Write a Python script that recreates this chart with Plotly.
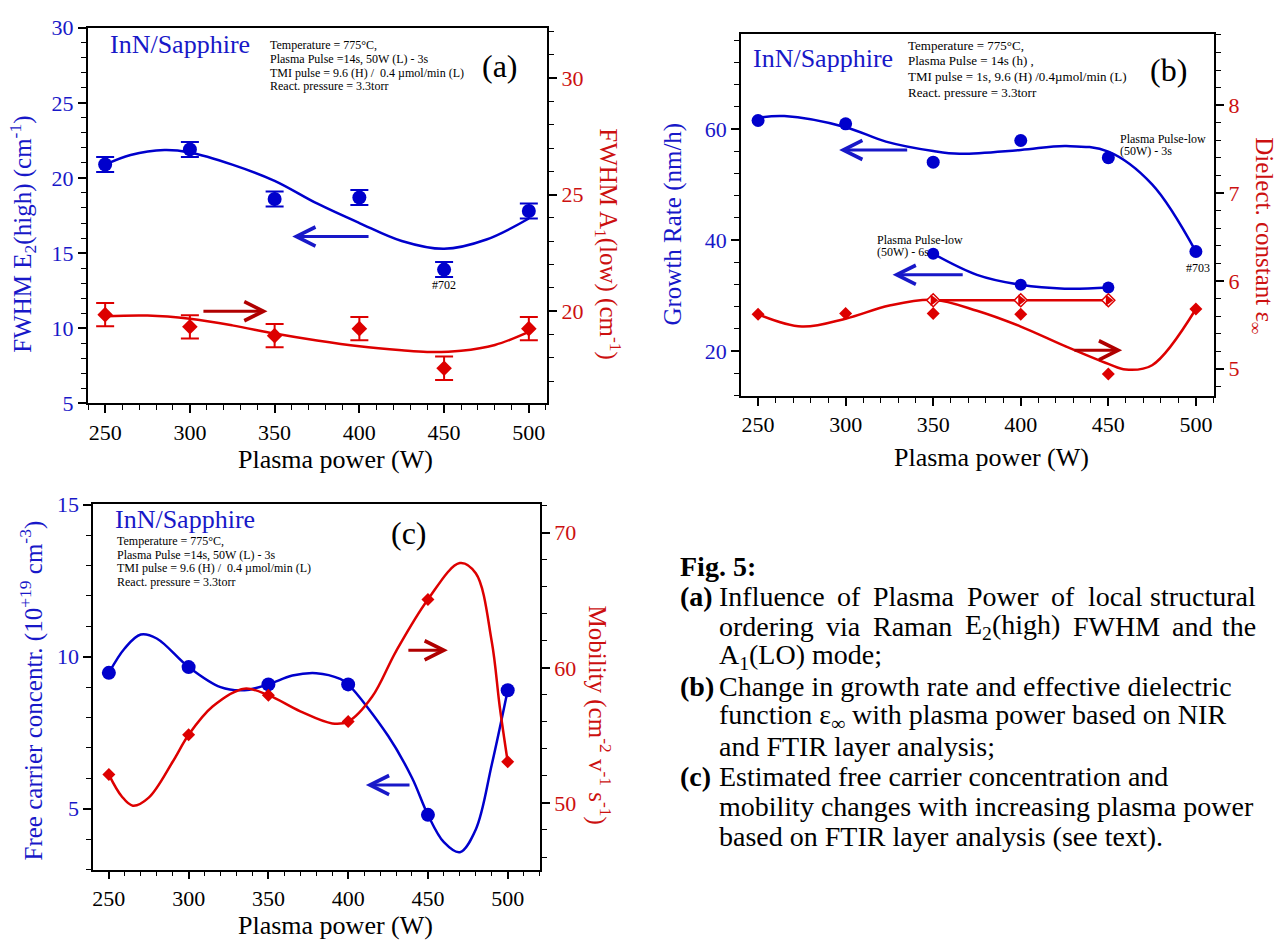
import plotly.graph_objects as go

W, H = 1279, 952
BLUE = '#0000CC'
BLUE_T = '#1818C8'
RED = '#DD0000'
RED_T = '#CC1010'
DARKRED = '#B00000'
FONT = 'Liberation Serif'

# ---------------- data ----------------
power = [250, 300, 350, 400, 450, 500]

# (a) Raman FWHM
e2_fwhm = [20.9, 21.9, 18.6, 18.7, 13.9, 17.8]
e2_err = [0.5, 0.5, 0.5, 0.5, 0.5, 0.5]
a1_fwhm = [19.85, 19.33, 18.95, 19.25, 17.55, 19.25]
a1_err = [0.5, 0.5, 0.5, 0.5, 0.5, 0.5]
fit_e2_x = [250, 265, 285, 300, 325, 350, 375, 400, 425, 450, 475, 500]
fit_e2_y = [20.89, 21.53, 21.86, 21.7, 20.89, 19.81, 18.3, 17.0, 15.8, 15.28, 15.9, 17.3]
fit_a1_x = [250, 275, 300, 325, 350, 375, 400, 425, 440, 460, 480, 500]
fit_a1_y = [19.78, 19.81, 19.67, 19.39, 19.04, 18.74, 18.49, 18.32, 18.25, 18.3, 18.55, 19.11]

# (b) growth rate and dielectric constant
growth = [61.5, 60.9, 54.0, 57.9, 54.8, 37.9]
power_6s = [350, 400, 450]
growth_6s = [37.5, 31.9, 31.4]
eps = [5.62, 5.63, 5.63, 5.62, 4.94, 5.68]
eps_6s = [5.78, 5.78, 5.78]
fit_gr_x = [250, 265, 300, 323, 350, 365, 400, 426, 450, 475, 500]
fit_gr_y = [62.0, 62.3, 60.3, 57.7, 56.0, 55.5, 56.2, 56.9, 55.9, 50.0, 37.9]
fit_gr6_x = [350, 375, 400, 425, 450]
fit_gr6_y = [37.5, 33.7, 31.9, 31.2, 31.4]
fit_eps_x = [250, 275, 300, 325, 350, 375, 400, 425, 450, 460, 475, 500]
fit_eps_y = [5.62, 5.48, 5.57, 5.72, 5.785, 5.66, 5.48, 5.26, 5.055, 4.99, 5.04, 5.68]

# (c) carrier concentration and mobility
carrier = [9.47, 9.66, 9.09, 9.09, 4.80, 8.90]
mobility = [52.1, 55.05, 57.98, 56.03, 65.07, 53.05]
fit_n_x = [250, 260, 270, 280, 300, 320, 335, 350, 365, 380, 395, 400, 425, 440, 450, 460, 470, 480, 490, 500]
fit_n_y = [9.47, 10.28, 10.73, 10.6, 9.66, 9.0, 8.9, 9.09, 9.38, 9.46, 9.27, 9.09, 7.4, 6.02, 4.80, 3.9, 3.57, 4.32, 6.45, 8.90]
fit_mu_x = [250, 258, 265, 275, 290, 300, 315, 335, 350, 370, 390, 400, 415, 430, 450, 470, 480, 490, 495, 500]
fit_mu_y = [52.1, 50.5, 49.8, 50.4, 53.05, 55.05, 57.14, 58.46, 57.98, 56.78, 55.89, 56.03, 57.86, 61.23, 65.07, 67.76, 67.0, 61.95, 57.14, 53.05]


def X(px):
    return px / W


def Y(py):
    return 1 - py / H


fig = go.Figure()


def line(x, y, color, xa, ya, width=2.5):
    fig.add_trace(go.Scatter(x=x, y=y, mode='lines', xaxis=xa, yaxis=ya, hoverinfo='skip',
                             line=dict(color=color, width=width, shape='spline', smoothing=1.0)))


def pts(x, y, color, symbol, size, xa, ya, err=None):
    kw = {}
    if err is not None:
        kw['error_y'] = dict(type='data', array=err, color=color, thickness=2, width=9)
    fig.add_trace(go.Scatter(x=x, y=y, mode='markers', xaxis=xa, yaxis=ya,
                             marker=dict(symbol=symbol, size=size, color=color, line=dict(width=0)), **kw))


# (a)
line(fit_e2_x, fit_e2_y, BLUE, 'x', 'y')
line(fit_a1_x, fit_a1_y, RED, 'x', 'y2')
pts(power, e2_fwhm, BLUE, 'circle', 14, 'x', 'y', e2_err)
pts(power, a1_fwhm, RED, 'diamond', 12, 'x', 'y2', a1_err)

# (b)
line(fit_gr_x, fit_gr_y, BLUE, 'x2', 'y3')
line(fit_gr6_x, fit_gr6_y, BLUE, 'x2', 'y3')
line(fit_eps_x, fit_eps_y, RED, 'x2', 'y4')
fig.add_trace(go.Scatter(x=power_6s, y=eps_6s, mode='lines', xaxis='x2', yaxis='y4', hoverinfo='skip',
                         line=dict(color=RED, width=2.5)))
pts(power, growth, BLUE, 'circle', 13, 'x2', 'y3')
pts(power_6s, growth_6s, BLUE, 'circle', 12, 'x2', 'y3')
pts(power, eps, RED, 'diamond', 10, 'x2', 'y4')
fig.add_trace(go.Scatter(x=power_6s, y=eps_6s, mode='markers', xaxis='x2', yaxis='y4',
                         marker=dict(symbol='diamond', size=10, color='white', line=dict(color=RED, width=1.5))))
fig.add_trace(go.Scatter(x=power_6s, y=eps_6s, mode='markers', xaxis='x2', yaxis='y4',
                         marker=dict(symbol='triangle-right', size=10, color=RED, line=dict(width=0))))

# (c)
line(fit_n_x, fit_n_y, BLUE, 'x3', 'y5')
line(fit_mu_x, fit_mu_y, RED, 'x3', 'y6')
pts(power, carrier, BLUE, 'circle', 14, 'x3', 'y5')
pts(power, mobility, RED, 'diamond', 10, 'x3', 'y6')

# ---------------- axes ----------------
TICKFONT = 22


def xaxis(x0, x1, y_anchor, rng):
    return dict(domain=[X(x0), X(x1)], anchor=y_anchor, range=rng, showline=True, linecolor='black',
                linewidth=1.5, mirror=True, ticks='outside', ticklen=8, tickwidth=1.5, tickcolor='black',
                tick0=0, dtick=50, showgrid=False, zeroline=False,
                tickfont=dict(family=FONT, size=TICKFONT, color='black'),
                minor=dict(ticks='outside', ticklen=5, tickwidth=1.2, tickcolor='black', tick0=0, dtick=10,
                           showgrid=False))


def yaxis(top, bottom, x_anchor, rng, dtick, mdtick, color, side='left', overlay=None):
    d = dict(domain=[Y(bottom), Y(top)], anchor=x_anchor, range=rng, side=side, showline=True,
             linecolor='black', linewidth=1.5, ticks='outside', ticklen=8, tickwidth=1.5, tickcolor='black',
             tick0=0, dtick=dtick, showgrid=False, zeroline=False,
             tickfont=dict(family=FONT, size=TICKFONT, color=color),
             minor=dict(ticks='outside', ticklen=5, tickwidth=1.2, tickcolor='black', tick0=0, dtick=mdtick,
                        showgrid=False))
    if overlay:
        d['overlaying'] = overlay
    return d


layout = dict(
    width=W, height=H, margin=dict(l=0, r=0, t=0, b=0), paper_bgcolor='white', plot_bgcolor='white',
    showlegend=False, font=dict(family=FONT),
    xaxis=xaxis(86.6, 546.9, 'y', [239.6, 511]),
    yaxis=yaxis(16, 402, 'x', [4.99, 30.01], 5, 1, BLUE_T),
    yaxis2=yaxis(16, 402, 'x', [16.04, 32.17], 5, 1, RED_T, side='right', overlay='y'),
    xaxis2=xaxis(740.5, 1214.4, 'y3', [240.2, 510.6]),
    yaxis3=yaxis(22.7, 394.3, 'x2', [11.88, 77.07], 20, 4, BLUE_T),
    yaxis4=yaxis(22.7, 394.3, 'x2', [4.69, 8.81], 1, 0.2, RED_T, side='right', overlay='y3'),
    xaxis3=xaxis(92.3, 539.5, 'y5', [240.2, 520.3]),
    yaxis5=yaxis(505.7, 880.7, 'x3', [3.0, 15.01], 5, 1, BLUE_T),
    yaxis6=yaxis(505.7, 880.7, 'x3', [45.07, 72.1], 10, 2, RED_T, side='right', overlay='y5'),
)
fig.update_layout(**layout)

ann = []


def text(t, px, py, size, color='black', xanchor='left', yanchor='middle', angle=0):
    ann.append(dict(text=t, x=X(px), y=Y(py), xref='paper', yref='paper', showarrow=False,
                    xanchor=xanchor, yanchor=yanchor, textangle=angle,
                    font=dict(family=FONT, size=size, color=color)))


def arrow(x0, x1, y, xr, yr, color):
    ann.append(dict(x=x1, y=y, ax=x0, ay=y, xref=xr, yref=yr, axref=xr, ayref=yr, text='',
                    showarrow=True, arrowhead=5, arrowsize=1.25, arrowwidth=3, arrowcolor=color, standoff=0))


# (a) texts
text('InN/Sapphire', 106.7, 33.3, 26, BLUE_T)
for i, t in enumerate(['Temperature = 775°C,', 'Plasma Pulse =14s, 50W (L) - 3s',
                       'TMI pulse = 9.6 (H) /  0.4 µmol/min (L)', 'React. pressure = 3.3torr']):
    text(t, 267.5, 34.3 + 14 * i, 12)
text('(a)', 498.9, 55, 32, xanchor='center')
text('#702', 443, 280, 12, xanchor='center')
text('FWHM E<sub>2</sub>(high) (cm<sup>-1</sup>)', 21.7, 228, 25, BLUE_T, 'center', 'middle', -90)
text('FWHM A<sub>1</sub>(low) (cm<sup>-1</sup>)', 608, 238, 25, RED_T, 'center', 'middle', 90)
text('Plasma power (W)', 334.4, 460, 26, xanchor='center')
arrow(406.3, 360.4, 16.1, 'x', 'y', BLUE_T)
arrow(307.1, 345.8, 11.13, 'x', 'y', DARKRED)

# (b) texts
text('InN/Sapphire', 750.8, 47.7, 26, BLUE_T)
for t, py in zip(['Temperature = 775°C,', 'Plasma Pulse = 14s (h) ,',
                  'TMI pulse = 1s, 9.6 (H) /0.4µmol/min (L)', 'React. pressure = 3.3torr'],
                 [34.3, 50, 66.7, 82.3]):
    text(t, 905.8, py, 13)
text('(b)', 1168.4, 60, 32, xanchor='center')
text('Plasma Pulse-low', 1118, 130, 12)
text('(50W) - 3s', 1118, 142.7, 12)
text('Plasma Pulse-low', 874.7, 234.3, 12)
text('(50W) - 6s', 874.7, 246.7, 12)
text('#703', 1198, 263.3, 12, xanchor='center')
text('Growth Rate (nm/h)', 672.8, 218, 25, BLUE_T, 'center', 'middle', -90)
text('Dielect. constant ε<sub>∞</sub>', 1261.7, 230, 25, RED_T, 'center', 'middle', 90)
text('Plasma power (W)', 990.8, 458, 26, xanchor='center')
arrow(336.0, 296.3, 56.2, 'x2', 'y3', BLUE_T)
arrow(367.7, 326.8, 33.7, 'x2', 'y3', BLUE_T)
arrow(429.8, 457.9, 5.21, 'x2', 'y4', DARKRED)

# (c) texts
text('InN/Sapphire', 111.6, 521.7, 26, BLUE_T)
for i, t in enumerate(['Temperature = 775°C,', 'Plasma Pulse =14s, 50W (L) - 3s',
                       'TMI pulse = 9.6 (H) /  0.4 µmol/min (L)', 'React. pressure = 3.3torr']):
    text(t, 114, 543.3 + 14 * i, 12)
text('(c)', 408.2, 535, 32, xanchor='center')
text('Free carrier concentr. (10<sup>+19</sup> cm<sup>-3</sup>)', 30.8, 697, 25, BLUE_T, 'center', 'middle', -90)
text('Mobility (cm<sup>-2</sup> v<sup>-1</sup> s<sup>-1</sup>)', 599, 722, 25, RED_T, 'center', 'middle', 90)
text('Plasma power (W)', 334.4, 938.3, 26, xanchor='center')
arrow(439.4, 411.1, 5.78, 'x3', 'y5', BLUE_T)
arrow(436.8, 462.5, 61.3, 'x3', 'y6', DARKRED)

# caption
CS = 28
LX = 678
TX = 717
RX = 1258
rows = [569 + 30.9 * k for k in range(10)]
text('<b>Fig. 5:</b>', LX, rows[0], CS)
text('<b>(a)</b>', LX, rows[1], CS)
line1 = [('Influence', 717), ('of', 835), ('Plasma', 871), ('Power', 965), ('of', 1049), ('local', 1086),
         ('structural', None)]
line2 = [('ordering', 717), ('via', 824), ('Raman', 871), ('E<sub>2</sub>(high)', 963), ('FWHM', 1071),
         ('and', 1170), ('the', None)]
for words, py in [(line1, rows[1]), (line2, rows[2])]:
    for w, px in words:
        if px is None:
            text(w, RX, py, CS, xanchor='right')
        else:
            text(w, px, py, CS)
text('A<sub>1</sub>(LO) mode;', TX, rows[3], CS)
text('<b>(b)</b>', LX, rows[4], CS)
text('Change in growth rate and effective dielectric', TX, rows[4], CS)
text('function ε<sub>∞</sub> with plasma power based on NIR', TX, rows[5], CS)
text('and FTIR layer analysis;', TX, rows[6], CS)
text('<b>(c)</b>', LX, rows[7], CS)
text('Estimated free carrier concentration and', TX, rows[7], CS)
text('mobility changes with increasing plasma power', TX, rows[8], CS)
text('based on FTIR layer analysis (see text).', TX, rows[9], CS)

fig.update_layout(annotations=ann)
fig.write_html('out.html')
